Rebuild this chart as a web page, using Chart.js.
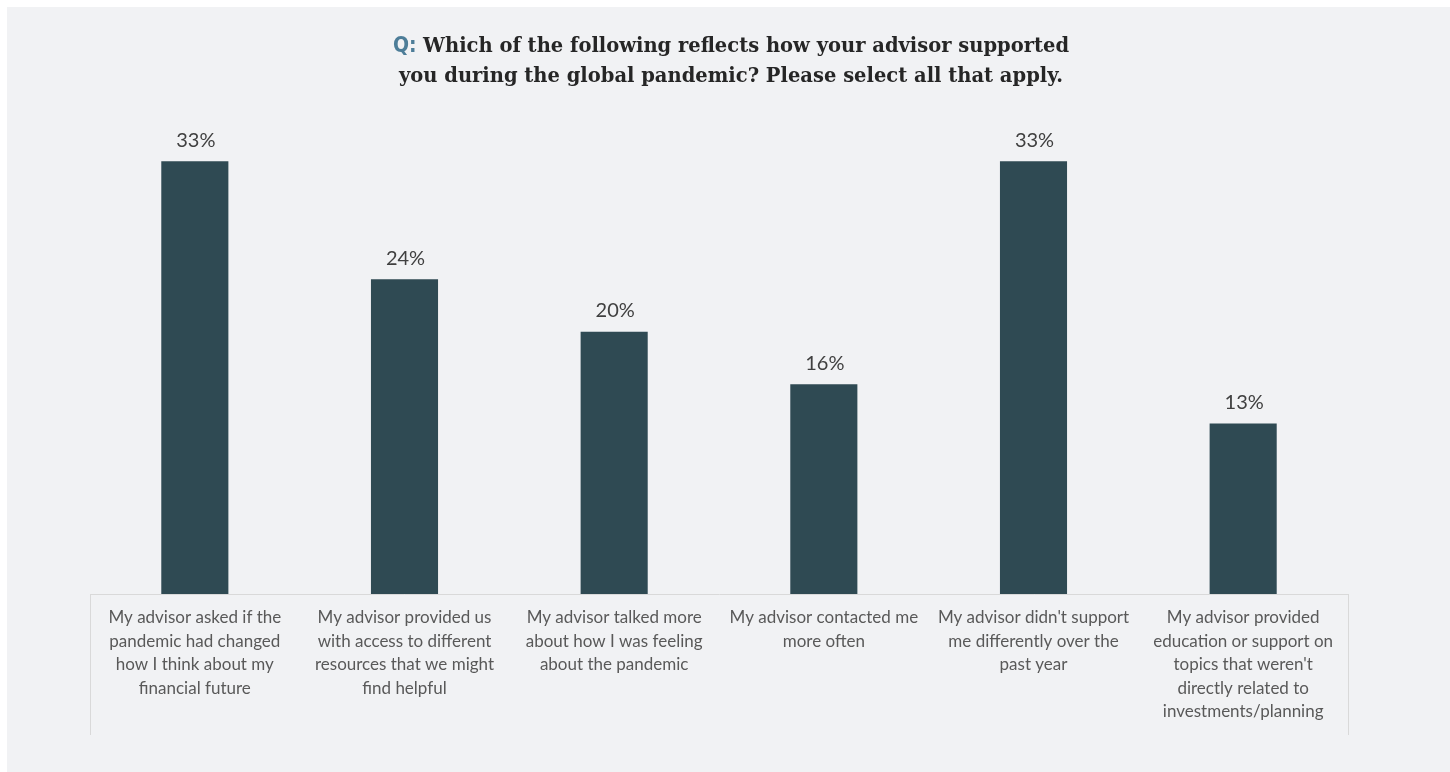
<!DOCTYPE html>
<html>
<head>
<meta charset="utf-8">
<title>Advisor support during the pandemic</title>
<script src="https://cdn.jsdelivr.net/npm/chart.js@4.4.1/dist/chart.umd.min.js"></script>
<style>
  html, body { margin: 0; padding: 0; background: #ffffff; overflow: hidden; }
  #wrap { position: absolute; left: 0; top: 0; width: 1450px; height: 772px; }
</style>
</head>
<body>
<div id="wrap"><canvas id="myChart" width="1450" height="772"></canvas></div>
<script>
const questionTag = "Q:";
const questionLines = [
  "Which of the following reflects how your advisor supported",
  "you during the global pandemic? Please select all that apply."
];
const categories = [
  ["My advisor asked if the", "pandemic had changed", "how I think about my", "financial future"],
  ["My advisor provided us", "with access to different", "resources that we might", "find helpful"],
  ["My advisor talked more", "about how I was feeling", "about the pandemic"],
  ["My advisor contacted me", "more often"],
  ["My advisor didn't support", "me differently over the", "past year"],
  ["My advisor provided", "education or support on", "topics that weren't", "directly related to", "investments/planning"]
];
const percentages = [33, 24, 20, 16, 33, 13];

const panelColor = "#f1f2f4";
const barColor = "#2f4a53";
const axisColor = "#d9d9d9";

// grey panel behind everything, leaving a thin white edge top and left
const panelBackground = {
  id: "panelBackground",
  beforeDraw(chart) {
    const c = chart.ctx;
    c.save();
    c.fillStyle = "#ffffff";
    c.fillRect(0, 0, chart.width, chart.height);
    c.fillStyle = panelColor;
    c.fillRect(7, 7, chart.width - 7, chart.height - 7);
    c.restore();
  }
};

// two-tone title: blue "Q:" followed by the question in a slab serif
const questionTitle = {
  id: "questionTitle",
  afterDraw(chart) {
    const c = chart.ctx;
    const cx = 731;
    const tagFont = "bold 21px 'Liberation Sans Narrow', 'DejaVu Sans Condensed', sans-serif";
    const textFont = "bold 19.5px 'DejaVu Serif', serif";
    c.save();
    c.textBaseline = "middle";
    questionLines.forEach((line, i) => {
      const y = 47 + i * 30;
      c.font = textFont;
      const textW = c.measureText(line).width;
      let tagW = 0;
      if (i === 0) {
        c.font = tagFont;
        tagW = c.measureText(questionTag + " ").width;
      }
      let x = cx - (textW + tagW) / 2;
      if (i === 0) {
        c.font = tagFont;
        c.fillStyle = "#4d7d98";
        c.textAlign = "left";
        c.fillText(questionTag, x, y);
        x += tagW;
      }
      c.font = textFont;
      c.fillStyle = "#262626";
      c.textAlign = "left";
      c.fillText(line, x, y);
    });
    c.restore();
  }
};

// value labels above each bar
const valueLabels = {
  id: "valueLabels",
  afterDatasetsDraw(chart) {
    const c = chart.ctx;
    const meta = chart.getDatasetMeta(0);
    c.save();
    c.font = "20px Lato, 'Open Sans', sans-serif";
    c.fillStyle = "#404040";
    c.textAlign = "center";
    c.textBaseline = "middle";
    meta.data.forEach((bar, i) => {
      c.fillText(percentages[i] + "%", bar.x + 1, bar.y - 21);
    });
    c.restore();
  }
};

// vertical edges of the category label box
const labelFrame = {
  id: "labelFrame",
  afterDraw(chart) {
    const c = chart.ctx;
    const area = chart.chartArea;
    c.save();
    c.strokeStyle = axisColor;
    c.lineWidth = 1;
    c.beginPath();
    [area.left, area.right].forEach((x) => {
      c.moveTo(Math.round(x) + 0.5, area.bottom);
      c.lineTo(Math.round(x) + 0.5, area.bottom + 141);
    });
    c.stroke();
    c.restore();
  }
};

let ctx = document.getElementById("myChart").getContext("2d");
let myChart = new Chart(ctx, {
  type: "bar",
  data: {
    labels: categories,
    datasets: [
      {
        data: percentages,
        backgroundColor: barColor,
        borderWidth: 0,
        categoryPercentage: 1,
        barPercentage: 0.32,
      },
    ],
  },
  options: {
    responsive: false,
    animation: false,
    layout: { padding: { left: 90, right: 102, top: 135, bottom: 0 } },
    plugins: {
      legend: { display: false },
      tooltip: { enabled: false },
    },
    scales: {
      x: {
        grid: { display: false, drawTicks: false },
        border: { display: true, color: axisColor, width: 1 },
        ticks: {
          color: "#595959",
          font: { family: "Lato, 'Open Sans', sans-serif", size: 17, lineHeight: 1.38 },
          padding: 12,
          maxRotation: 0,
          autoSkip: false,
        },
        afterFit(scale) {
          scale.height = 178;
        },
      },
      y: {
        display: false,
        min: 0,
        max: 35,
      },
    },
  },
  plugins: [panelBackground, questionTitle, valueLabels, labelFrame],
});
</script>
</body>
</html>
